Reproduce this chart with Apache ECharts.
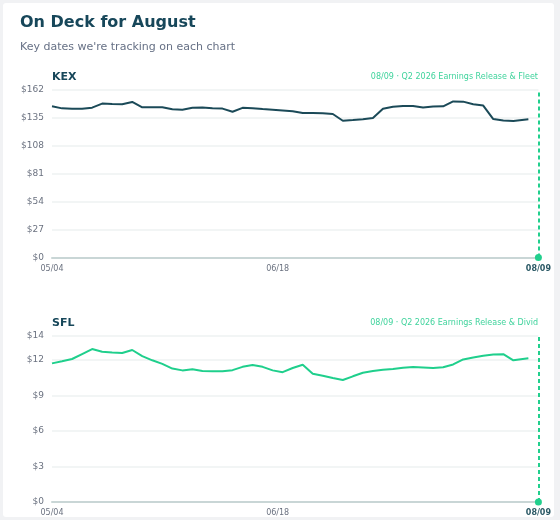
<!DOCTYPE html>
<html>
<head>
<meta charset="utf-8">
<script src="https://cdn.jsdelivr.net/npm/echarts@6/dist/echarts.min.js"></script>
<style>
  html, body { margin: 0; padding: 0; background: #f1f2f4; }
  #card { position: absolute; left: 3px; top: 3px; width: 551px; height: 514px; background: #fff; border-radius: 3px; }
  #chart { width: 551px; height: 514px; }
</style>
</head>
<body>
<div id="card"><div id="chart"></div></div>
<script>
// dates of the points (2026), shared by both panels
var dates = [
  '05-04','05-06','05-08','05-10','05-12','05-14','05-16','05-18','05-20','05-22',
  '05-24','05-26','05-28','05-30','06-01','06-03','06-05','06-07','06-09','06-11',
  '06-13','06-15','06-17','06-19','06-21','06-23','06-25','06-27','06-29','07-01',
  '07-03','07-05','07-07','07-09','07-11','07-13','07-15','07-17','07-19','07-21',
  '07-23','07-25','07-27','07-29','07-31','08-02','08-04','08-07'
];
var kexValues = [
  145.8, 143.8, 143.4, 143.5, 144.5, 148.4, 148.0, 147.7, 150.0, 144.8,
  144.8, 144.8, 143.0, 142.5, 144.3, 144.6, 144.0, 143.6, 140.5, 144.3,
  144.0, 143.2, 142.5, 141.8, 141.0, 139.4, 139.4, 139.1, 138.4, 131.9,
  132.6, 133.4, 134.5, 143.5, 145.4, 146.0, 146.0, 144.6, 145.5, 145.8,
  150.5, 150.3, 147.8, 146.5, 133.5, 132.0, 131.6, 133.2
];
var sflValues = [
  11.69, 11.87, 12.06, 12.48, 12.90, 12.67, 12.60, 12.56, 12.82, 12.30,
  11.95, 11.65, 11.25, 11.10, 11.20, 11.05, 11.02, 11.02, 11.12, 11.40,
  11.55, 11.40, 11.10, 10.95, 11.30, 11.58, 10.82, 10.65, 10.45, 10.29,
  10.60, 10.90, 11.05, 11.15, 11.22, 11.33, 11.38, 11.35, 11.30, 11.36,
  11.60, 12.02, 12.18, 12.33, 12.44, 12.47, 11.95, 12.12
];
var xTickLabels = ['05-04', '06-18', '08-09'];
var eventDate = '08-09';
var kexEvent = '08/09 · Q2 2026 Earnings Release & Fleet';
var sflEvent = '08/09 · Q2 2026 Earnings Release & Divid';

var font = 'DejaVu Sans';
var dark = '#17475a';
var green = '#22cf8d';

// days since the first date, used as the x value
function dayOf(md) {
  var p = md.split('-');
  var t = Date.UTC(2026, +p[0] - 1, +p[1]);
  var t0 = Date.UTC(2026, 4, 4);
  return Math.round((t - t0) / 86400000);
}
var labelByDay = {};
xTickLabels.forEach(function (d) { labelByDay[dayOf(d)] = d.replace('-', '/'); });

function pairs(vals) {
  return vals.map(function (v, i) { return [dayOf(dates[i]), v]; });
}

function xAxisFor(idx) {
  return {
    type: 'value',
    gridIndex: idx,
    min: dayOf(xTickLabels[0]),
    max: dayOf(xTickLabels[xTickLabels.length - 1]),
    axisLine: { onZero: false, lineStyle: { color: '#c9d6d6', width: 2 } },
    axisTick: { show: false },
    splitLine: { show: false },
    axisLabel: {
      customValues: xTickLabels.map(dayOf),
      fontFamily: font, fontSize: 8, color: '#6b7280', margin: 7,
      formatter: function (val) {
        var s = labelByDay[Math.round(val)] || '';
        return s === eventDate.replace('-', '/') ? '{b|' + s + '}' : s;
      },
      rich: { b: { fontFamily: font, fontSize: 8, fontWeight: 'bold', color: '#2c5a66' } }
    }
  };
}

function yAxisFor(idx, max, step) {
  return {
    type: 'value',
    gridIndex: idx,
    min: 0, max: max, interval: step,
    axisLine: { show: false },
    axisTick: { show: false },
    splitLine: { lineStyle: { color: '#eef2f2', width: 1.5 } },
    axisLabel: {
      fontFamily: font, fontSize: 9, color: '#6b7280', margin: 8,
      formatter: function (v) { return '$' + v; }
    }
  };
}

function seriesFor(idx, vals, color) {
  return {
    type: 'line',
    xAxisIndex: idx, yAxisIndex: idx,
    data: pairs(vals),
    showSymbol: false,
    lineStyle: { color: color, width: 2 },
    itemStyle: { color: color },
    silent: true,
    markLine: {
      silent: true, symbol: 'none',
      label: { show: false },
      lineStyle: { color: green, type: [4, 3], width: 2 },
      data: [{ xAxis: dayOf(eventDate) }]
    },
    markPoint: {
      silent: true, symbol: 'circle', symbolSize: 7,
      itemStyle: { color: green },
      label: { show: false },
      data: [{ coord: [dayOf(eventDate), 0] }]
    }
  };
}

var chart = echarts.init(document.getElementById('chart'));

var option = {
  animation: false,
  title: [
    { text: 'On Deck for August', left: 12, top: 7,
      textStyle: { fontFamily: font, fontSize: 16, fontWeight: 'bold', color: dark } },
    { text: 'Key dates we\'re tracking on each chart', left: 12, top: 34,
      textStyle: { fontFamily: font, fontSize: 11, fontWeight: 'normal', color: '#667085' } },
    { text: 'KEX', left: 44, top: 64,
      textStyle: { fontFamily: font, fontSize: 11, fontWeight: 'bold', color: dark } },
    { text: kexEvent, right: 11, top: 65,
      textStyle: { fontFamily: font, fontSize: 8, fontWeight: 'normal', color: '#3fd39c' } },
    { text: 'SFL', left: 44, top: 310,
      textStyle: { fontFamily: font, fontSize: 11, fontWeight: 'bold', color: dark } },
    { text: sflEvent, right: 11, top: 311,
      textStyle: { fontFamily: font, fontSize: 8, fontWeight: 'normal', color: '#3fd39c' } }
  ],
  grid: [
    { left: 49, right: 14, top: 86.5, height: 168 },
    { left: 49, right: 14, top: 333, height: 167 }
  ],
  xAxis: [xAxisFor(0), xAxisFor(1)],
  yAxis: [yAxisFor(0, 162, 27), yAxisFor(1, 14, 3)],
  series: [
    seriesFor(0, kexValues, '#1b4a58'),
    seriesFor(1, sflValues, '#1fcf8c')
  ]
};

chart.setOption(option);
</script>
</body>
</html>
